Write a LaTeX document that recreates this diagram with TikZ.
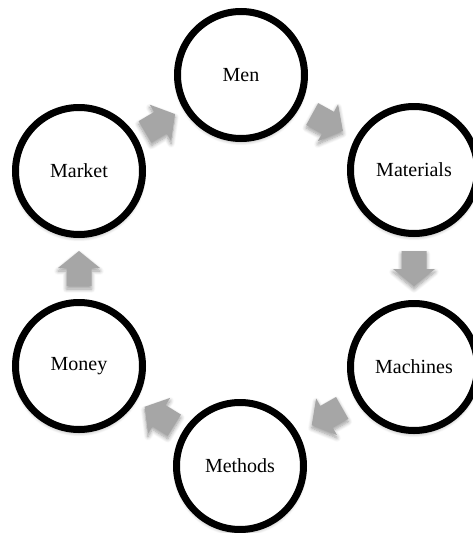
\documentclass[tikz,border=0pt]{standalone}
\usepackage{fontspec}
\setmainfont{Liberation Serif}
\usetikzlibrary{calc,shadows.blur}

\definecolor{arrowgray}{HTML}{A6A6A6}

\tikzset{
  softshadow/.style={blur shadow={shadow xshift=0pt, shadow yshift=-3pt,
      shadow blur radius=4pt, shadow blur steps=8, shadow opacity=40}},
  stage/.style={circle, draw=black, line width=7pt, fill=white,
      minimum size=127pt, inner sep=0pt,
      font=\fontsize{20}{24}\selectfont, softshadow},
  pics/flowarrow/.style={code={
      \fill[arrowgray, softshadow]
        (-17.5,-12.5) -- (0.5,-12.5) -- (0.5,-21) -- (17.5,0)
        -- (0.5,21) -- (0.5,12.5) -- (-17.5,12.5) -- cycle;
  }}
}

% block arrow halfway between two stages, pointing from the first to the second
\newcommand\linkarrow[2]{%
  \path let \p1=($(#1)!0.5!(#2)$), \p2=($(#2)-(#1)$),
        \n1={atan2(\y2,\x2)} in (\p1) pic[rotate=\n1]{flowarrow};}

\begin{document}
\begin{tikzpicture}[x=1pt, y=-1pt]
  \useasboundingbox (0,0) rectangle (473,533);

  \node[stage] (men)       at (241,75)  {Men};
  \node[stage] (materials) at (414,170) {Materials};
  \node[stage] (machines)  at (414,367) {Machines};
  \node[stage] (methods)   at (240,466) {Methods};
  \node[stage] (money)     at (79,366)  {Money};
  \node[stage] (market)    at (79,171)  {Market};

  \linkarrow{men}{materials}
  \linkarrow{materials}{machines}
  \linkarrow{machines}{methods}
  \linkarrow{methods}{money}
  \linkarrow{money}{market}
  \linkarrow{market}{men}
\end{tikzpicture}
\end{document}
